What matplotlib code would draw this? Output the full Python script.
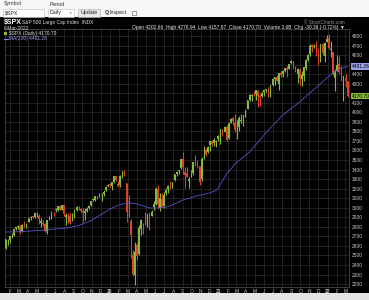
import matplotlib
matplotlib.use('Agg')
import matplotlib.pyplot as plt
import matplotlib.dates as mdates
from matplotlib.patches import Rectangle
import pandas as pd

plt.rcParams['font.family'] = ['Liberation Sans', 'DejaVu Sans']

# ---------------- data (weekly OHLC) ----------------
first_week_end = '2019-01-18'
open_ = [2582, 2664, 2660, 2706, 2712, 2780, 2795, 2812, 2747, 2823, 2797, 2848, 2888, 2909, 2898,
         2941, 2909, 2841, 2841, 2830, 2751, 2885, 2887, 2946, 2971, 2981, 3014, 2979, 3024, 2898,
         2907, 2913, 2866, 2910, 2980, 2996, 2983, 2968, 2945, 2965, 2997, 3032, 3078, 3080, 3118,
         3117, 3143, 3141, 3183, 3227,
         3247, 3226, 3273, 3333, 3247, 3236, 3319, 3369, 3257, 2974, 2864, 2509, 2291, 2614, 2514,
         2782, 2845, 2854, 2815, 2938, 2914, 3009, 3038, 3199, 2994, 3094, 3018, 3155, 3191, 3224,
         3219, 3289, 3356, 3380, 3418, 3507, 3371, 3363, 3285, 3342, 3367, 3488, 3493, 3441, 3296,
         3584, 3600, 3579, 3653, 3699, 3675, 3684, 3723,
         3764, 3803, 3797, 3842, 3731, 3886, 3939, 3885, 3842, 3844, 3913, 3917, 3971, 4034, 4127,
         4174, 4185, 4191, 4228, 4169, 4168, 4216, 4230, 4248, 4174, 4285, 4353, 4373, 4296, 4410,
         4406, 4438, 4462, 4450, 4514, 4536, 4470, 4402, 4447, 4348, 4385, 4463, 4553, 4610, 4707,
         4689, 4712, 4628, 4545, 4713, 4588, 4733,
         4778, 4655, 4632, 4356, 4431, 4505, 4412, 4332, 4364, 4328]
high = [2675, 2670, 2708, 2738, 2780, 2795, 2814, 2816, 2831, 2860, 2836, 2893, 2910, 2917, 2940,
        2954, 2932, 2892, 2871, 2841, 2876, 2911, 2964, 2952, 2996, 3014, 3018, 3028, 3028, 2944,
        2944, 2940, 2940, 2985, 3021, 3022, 3002, 2993, 2993, 3008, 3027, 3066, 3098, 3120, 3127,
        3154, 3150, 3183, 3226, 3248,
        3259, 3268, 3330, 3337, 3285, 3347, 3385, 3393, 3260, 3137, 2882, 2553, 2641, 2632, 2819,
        2880, 2845, 2954, 2933, 2955, 2981, 3068, 3212, 3233, 3155, 3155, 3165, 3202, 3238, 3280,
        3272, 3352, 3387, 3399, 3509, 3588, 3425, 3429, 3320, 3397, 3482, 3550, 3502, 3441, 3529,
        3646, 3628, 3645, 3699, 3712, 3726, 3711, 3760,
        3826, 3823, 3861, 3870, 3887, 3937, 3950, 3983, 3915, 3960, 3984, 3975, 4020, 4130, 4191,
        4195, 4219, 4238, 4238, 4187, 4218, 4234, 4249, 4262, 4286, 4355, 4372, 4394, 4415, 4429,
        4440, 4468, 4481, 4509, 4545, 4536, 4486, 4465, 4466, 4429, 4475, 4559, 4608, 4718, 4714,
        4717, 4743, 4672, 4713, 4731, 4740, 4808,
        4819, 4749, 4632, 4454, 4596, 4590, 4489, 4385, 4402, 4328]
low = [2570, 2612, 2631, 2685, 2702, 2766, 2775, 2723, 2743, 2800, 2785, 2848, 2873, 2895, 2896,
       2900, 2825, 2801, 2805, 2750, 2728, 2874, 2877, 2914, 2952, 2963, 2975, 2975, 2914, 2822,
       2835, 2834, 2856, 2891, 2963, 2978, 2946, 2855, 2874, 2952, 2991, 3023, 3066, 3071, 3090,
       3115, 3070, 3125, 3180, 3221,
       3212, 3181, 3264, 3281, 3214, 3214, 3316, 3328, 2855, 2901, 2478, 2281, 2192, 2448, 2505,
       2719, 2728, 2815, 2797, 2767, 2910, 2979, 3026, 2999, 2966, 3007, 3000, 3128, 3154, 3201,
       3209, 3284, 3329, 3354, 3410, 3349, 3209, 3322, 3209, 3323, 3342, 3441, 3419, 3233, 3279,
       3511, 3543, 3569, 3594, 3645, 3647, 3636, 3703,
       3663, 3750, 3791, 3694, 3725, 3885, 3865, 3789, 3723, 3805, 3885, 3853, 3950, 4034, 4118,
       4118, 4167, 4126, 4057, 4061, 4156, 4168, 4209, 4165, 4165, 4278, 4289, 4325, 4233, 4370,
       4367, 4422, 4367, 4450, 4509, 4457, 4427, 4306, 4288, 4278, 4330, 4448, 4537, 4595, 4631,
       4672, 4585, 4495, 4531, 4600, 4531, 4733,
       4663, 4582, 4395, 4222, 4431, 4402, 4327, 4115, 4267, 4157.87]
close = [2670, 2665, 2707, 2708, 2776, 2793, 2804, 2743, 2822, 2800, 2834, 2893, 2907, 2905, 2940,
         2946, 2881, 2860, 2826, 2752, 2873, 2887, 2950, 2942, 2990, 3014, 2977, 3026, 2932, 2919,
         2889, 2847, 2926, 2979, 3007, 2992, 2962, 2952, 2970, 2986, 3023, 3067, 3093, 3120, 3110,
         3141, 3146, 3169, 3221, 3240,
         3235, 3265, 3330, 3295, 3226, 3328, 3380, 3338, 2954, 2972, 2711, 2305, 2541, 2489, 2790,
         2875, 2837, 2831, 2930, 2864, 2955, 3044, 3194, 3041, 3098, 3009, 3130, 3185, 3225, 3216,
         3271, 3351, 3373, 3397, 3508, 3427, 3341, 3319, 3298, 3348, 3477, 3483, 3465, 3270, 3510,
         3585, 3558, 3638, 3699, 3663, 3709, 3703, 3756,
         3825, 3768, 3841, 3714, 3887, 3934, 3907, 3811, 3842, 3943, 3913, 3975, 4020, 4129, 4185,
         4180, 4181, 4233, 4174, 4156, 4204, 4230, 4247, 4166, 4281, 4352, 4370, 4327, 4412, 4395,
         4437, 4468, 4442, 4509, 4535, 4459, 4433, 4455, 4357, 4391, 4471, 4545, 4605, 4697, 4683,
         4698, 4595, 4538, 4712, 4620, 4726, 4766,
         4677, 4662, 4398, 4432, 4500, 4419, 4349, 4385, 4329, 4170.70]

ma_dates = ['2019-01-14', '2019-03-01', '2019-05-01', '2019-06-15', '2019-08-10', '2019-09-23',
            '2019-11-01', '2019-11-29', '2020-01-01', '2020-02-01', '2020-03-05', '2020-04-01',
            '2020-05-14', '2020-06-15', '2020-07-10', '2020-08-05', '2020-09-02', '2020-10-15',
            '2020-12-01', '2020-12-25', '2021-01-27', '2021-02-28', '2021-04-14', '2021-06-10',
            '2021-08-03', '2021-09-29', '2021-11-25', '2022-01-18', '2022-02-15', '2022-03-08']
ma_values = [2745, 2748, 2760, 2772, 2787, 2818, 2870, 2923, 2985, 3030, 3052, 3040,
             2997, 2998, 3007, 3040, 3080, 3120, 3154, 3185, 3355, 3470, 3584, 3793,
             3971, 4108, 4265, 4412, 4460, 4481.26]

y_ticks = list(range(2200, 4900, 100))
y_hidden = [4500, 4200]  # covered by the price tags in the reference
month_letters = ['J', 'F', 'M', 'A', 'M', 'J', 'J', 'A', 'S', 'O', 'N', 'D']

# ---------------- figure ----------------
W, H = 369, 300
fig = plt.figure(figsize=(W / 100, H / 100), dpi=100)
fig.patch.set_facecolor('#f6f6f6')

def fx(px):
    return px / W

def fy(py):
    return 1 - py / H

# black chart region
fig.add_artist(Rectangle((0, fy(293)), 1, (293 - 17) / H, transform=fig.transFigure,
                         facecolor='black', edgecolor='none', zorder=0))
# bottom strip
fig.add_artist(Rectangle((0, 0), 1, fy(293), transform=fig.transFigure,
                         facecolor='#e4e4e4', edgecolor='none', zorder=0))

# header controls
fs = 3.8
fig.text(fx(4), fy(4), 'Symbol', fontsize=fs, color='#333333', va='center')
fig.text(fx(50), fy(4), 'Period', fontsize=fs, color='#333333', va='center')
fig.add_artist(Rectangle((fx(3), fy(16.5)), (44 - 3) / W, 7.5 / H, transform=fig.transFigure,
                         facecolor='white', edgecolor='#bbbbbb', linewidth=0.4))
fig.text(fx(5), fy(12.8), '$SPX', fontsize=fs, color='#222222', va='center')
fig.add_artist(Rectangle((fx(48), fy(16.5)), (74 - 48) / W, 7.5 / H, transform=fig.transFigure,
                         facecolor='white', edgecolor='#bbbbbb', linewidth=0.4))
fig.text(fx(50), fy(12.8), 'Daily', fontsize=fs, color='#222222', va='center')
fig.text(fx(70), fy(12.8), '\u2228', fontsize=3, color='#555555', va='center', ha='center')
fig.add_artist(Rectangle((fx(78), fy(16.5)), (100 - 78) / W, 7.5 / H, transform=fig.transFigure,
                         facecolor='#e8e8e8', edgecolor='#aaaaaa', linewidth=0.4))
fig.text(fx(89), fy(12.8), 'Update', fontsize=fs, color='#222222', va='center', ha='center')
fig.text(fx(105), fy(12.8), 'Q', fontsize=fs, color='#222222', va='center', fontweight='bold')
fig.text(fx(110), fy(12.8), 'Inspect', fontsize=fs, color='#222222', va='center')
fig.add_artist(Rectangle((fx(132), fy(15)), 4 / W, 4 / H, transform=fig.transFigure,
                         facecolor='white', edgecolor='#555555', linewidth=0.4))

# ---------------- axes ----------------
ax_left, ax_right, ax_top, ax_bot = 5, 348.5, 29, 287
ax = fig.add_axes([fx(ax_left), fy(ax_bot), (ax_right - ax_left) / W, (ax_bot - ax_top) / H])
ax.set_facecolor('black')
for s in ax.spines.values():
    s.set_color('#555555')
    s.set_linewidth(0.5)

dates = pd.date_range(first_week_end, periods=len(close), freq='W-FRI') - pd.Timedelta(days=2)
xs = mdates.date2num(dates.to_pydatetime())
up_col, dn_col = '#86b83c', '#d9452b'
cols = [up_col if c >= o else dn_col for o, c in zip(open_, close)]
ax.vlines(xs, low, high, colors=cols, linewidth=0.8, zorder=3)
bottoms = [min(o, c) for o, c in zip(open_, close)]
heights = [max(abs(c - o), 2) for o, c in zip(open_, close)]
ax.bar(xs, heights, bottom=bottoms, width=5.5, color=cols, edgecolor='none', zorder=3)

ma_x = mdates.date2num(pd.to_datetime(ma_dates).to_pydatetime())
ax.plot(ma_x, ma_values, color='#5458cc', linewidth=0.6, zorder=4)

ax.set_ylim(2169, 4873)
ax.set_xlim(mdates.date2num(pd.Timestamp('2019-01-14')), mdates.date2num(pd.Timestamp('2022-03-12')))

# grid + ticks
month_starts = pd.date_range('2019-02-01', '2022-03-01', freq='MS')
ax.set_xticks(mdates.date2num(month_starts.to_pydatetime()))
labels = [(m.strftime('%y') if m.month == 1 else month_letters[m.month - 1]) for m in month_starts]
ax.set_xticklabels(labels)
for lab, m in zip(ax.get_xticklabels(), month_starts):
    if m.month == 1:
        lab.set_fontweight('bold')
ax.set_yticks(y_ticks)
ax.set_yticklabels(['' if v in y_hidden else str(v) for v in y_ticks])
ax.yaxis.tick_right()
ax.tick_params(axis='both', length=0, labelsize=3.5, colors='#c8c8c8')
ax.tick_params(axis='x', pad=1.2)
ax.tick_params(axis='y', pad=2.5)
ax.grid(True, color='#2e2e2e', linewidth=0.5)
ax.set_axisbelow(True)

# price tags at the right
ax.annotate('4170.70', xy=(1.0, close[-1]), xycoords=('axes fraction', 'data'),
            xytext=(2.5, 0), textcoords='offset points', fontsize=3.5, color='black',
            va='center', ha='left', annotation_clip=False,
            bbox=dict(boxstyle='square,pad=0.15', facecolor='#86b83c', edgecolor='none'))
ax.annotate('4481.26', xy=(1.0, ma_values[-1]), xycoords=('axes fraction', 'data'),
            xytext=(2.5, 0), textcoords='offset points', fontsize=3.5, color='black',
            va='center', ha='left', annotation_clip=False,
            bbox=dict(boxstyle='square,pad=0.15', facecolor='#9a9ee8', edgecolor='none'))

# chart header text
fig.text(fx(4), fy(22.5), '$SPX', fontsize=5, color='white', fontweight='bold', va='center')
fig.text(fx(22), fy(22.5), 'S&P 500 Large Cap Index  INDX', fontsize=3.5, color='#dddddd', va='center')
fig.text(fx(4), fy(28), '8-Mar-2022', fontsize=3.5, color='#dddddd', va='center')
fig.add_artist(Rectangle((fx(4), fy(35)), 3 / W, 3 / H, transform=fig.transFigure,
                         facecolor=up_col, edgecolor='none'))
fig.text(fx(9), fy(33.5), '$SPX (Daily) 4170.70', fontsize=3.5, color='#dddddd', va='center')
fig.add_artist(plt.Line2D([fx(4), fx(8)], [fy(38.5), fy(38.5)], transform=fig.transFigure,
                          color='#7a7ef0', linewidth=0.8))
fig.text(fx(9), fy(38.5), 'MA(200) 4481.26', fontsize=3.5, color='#9a9ef0', va='center')
fig.text(fx(345), fy(22.5), '\u00a9 StockCharts.com', fontsize=3.3, color='#999999', va='center', ha='right')
fig.text(fx(345), fy(28),
         'Open 4202.66  High 4276.94  Low 4157.87  Close 4170.70  Volume 3.6B  Chg -30.39 (-0.72%) \u25bc',
         fontsize=3.5, color='#eeeeee', va='center', ha='right')

fig.savefig('out.png', dpi=100, facecolor=fig.get_facecolor())
